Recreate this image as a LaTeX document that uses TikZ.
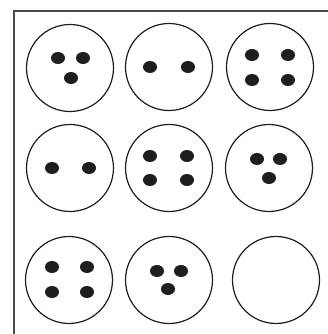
\documentclass[tikz,border=0pt]{standalone}
\usepackage{tikz}
\usepackage{xcolor}
\usetikzlibrary{shapes.geometric,positioning,calc}
\definecolor{ink}{HTML}{1E1E1E}
\definecolor{paper}{HTML}{FFFFFF}
\tikzset{
  cellcircle/.style={
    circle, draw=ink, line width=1.2pt, fill=paper,
    minimum size=87pt, inner sep=0pt
  },
  pipdot/.style={
    ellipse, fill=ink, draw=none,
    minimum width=14pt, minimum height=12pt, inner sep=0pt
  },
  framebar/.style={
    draw=ink!80, line width=1.8pt
  },
}

\begin{document}
\begin{tikzpicture}[x=1pt, y=1pt]
  \useasboundingbox (0,0) rectangle (328,334);
  % Frame
  \coordinate (frame-bl) at (14,-2);
  \coordinate (frame-tl) at (14,323);
  \coordinate (frame-tr) at (330,323);
  \draw[framebar] (frame-bl) -- (frame-tl) -- (frame-tr);
  % Top row
  \node[cellcircle] (c1) at (70,266) {};
  \node[cellcircle] at ([xshift=99pt, yshift=1pt]c1.center) (c2) {};
  \node[cellcircle] at ([xshift=101pt]c2.center) (c3) {};
  \node[pipdot] at ([xshift=-12pt, yshift=10pt]c1.center) (d1a) {};
  \node[pipdot] at ([xshift=13pt, yshift=10pt]c1.center) (d1b) {};
  \node[pipdot] at ([xshift=1pt, yshift=-10pt]c1.center) (d1c) {};
  \node[pipdot] at ([xshift=-19pt]c2.center) (d2a) {};
  \node[pipdot] at ([xshift=19pt]c2.center) (d2b) {};
  \node[pipdot] at ([xshift=-18pt, yshift=12pt]c3.center) (d3a) {};
  \node[pipdot] at ([xshift=18pt, yshift=12pt]c3.center) (d3b) {};
  \node[pipdot] at ([xshift=-18pt, yshift=-13pt]c3.center) (d3c) {};
  \node[pipdot] at ([xshift=18pt, yshift=-13pt]c3.center) (d3d) {};
  % Middle row
  \node[cellcircle] at ([yshift=-100pt]c1.center) (c4) {};
  \node[cellcircle] at ([xshift=99pt]c4.center) (c5) {};
  \node[cellcircle] at ([xshift=100pt]c5.center) (c6) {};
  \node[pipdot] at ([xshift=-18pt]c4.center) (d4a) {};
  \node[pipdot] at ([xshift=19pt]c4.center) (d4b) {};
  \node[pipdot] at ([xshift=-19pt, yshift=12pt]c5.center) (d5a) {};
  \node[pipdot] at ([xshift=18pt, yshift=12pt]c5.center) (d5b) {};
  \node[pipdot] at ([xshift=-19pt, yshift=-12pt]c5.center) (d5c) {};
  \node[pipdot] at ([xshift=18pt, yshift=-12pt]c5.center) (d5d) {};
  \node[pipdot] at ([xshift=-12pt, yshift=9pt]c6.center) (d6a) {};
  \node[pipdot] at ([xshift=11pt, yshift=9pt]c6.center) (d6b) {};
  \node[pipdot] at ([yshift=-10pt]c6.center) (d6c) {};
  % Bottom row
  \node[cellcircle] at ([xshift=-1pt, yshift=-112pt]c4.center) (c7) {};
  \node[cellcircle] at ([xshift=100pt]c7.center) (c8) {};
  \node[cellcircle] at ([xshift=107pt]c8.center) (c9) {};
  \node[pipdot] at ([xshift=-17pt, yshift=13pt]c7.center) (d7a) {};
  \node[pipdot] at ([xshift=18pt, yshift=13pt]c7.center) (d7b) {};
  \node[pipdot] at ([xshift=-17pt, yshift=-12pt]c7.center) (d7c) {};
  \node[pipdot] at ([xshift=18pt, yshift=-12pt]c7.center) (d7d) {};
  \node[pipdot] at ([xshift=-12pt, yshift=9pt]c8.center) (d8a) {};
  \node[pipdot] at ([xshift=12pt, yshift=9pt]c8.center) (d8b) {};
  \node[pipdot] at ([xshift=-1pt, yshift=-9pt]c8.center) (d8c) {};
\end{tikzpicture}
\end{document}
